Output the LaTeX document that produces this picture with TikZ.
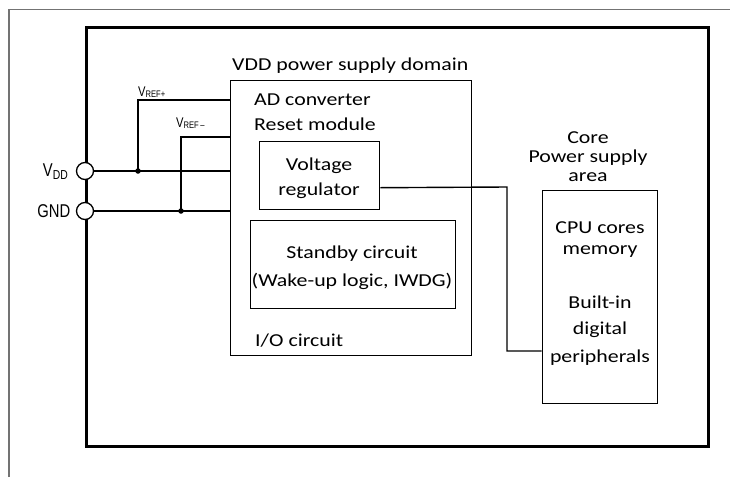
\documentclass[tikz,border=0pt]{standalone}
\usepackage{fontspec}
\setmainfont[FakeStretch=1.2]{Carlito}
\newfontfamily\pinfont[FakeStretch=0.8]{Liberation Sans}
\begin{document}
\begin{tikzpicture}[x=1pt,y=-1pt,
  txt/.style={inner sep=0pt,font=\fontsize{18.2}{21}\selectfont},
  pin/.style={inner sep=0pt,font=\pinfont\fontsize{18.5}{18.5}\selectfont},
  vref/.style={inner sep=0pt,font=\pinfont\fontsize{14}{14}\selectfont},
  box/.style={draw,line width=1.4pt,inner sep=0pt,anchor=north west},
  outerbox/.style={draw,line width=2.5pt,inner sep=0pt,anchor=north west},
  wire/.style={line width=1.4pt},
  framegray/.style={draw=black!55,line width=1.3pt},
  pincircle/.style={circle,draw,fill=white,line width=1.3pt,minimum size=17pt,inner sep=0pt},
  dot/.style={circle,fill=black,minimum size=5.5pt,inner sep=0pt}]
\useasboundingbox (0,0) rectangle (730,477);
% page frame
\draw[framegray] (9,477) -- (9,9.5) -- (730,9.5);
% outer box
\node[outerbox,minimum width=622pt,minimum height=419pt] (outer) at (85,26) {};
% VDD domain
\node[box,minimum width=241pt,minimum height=275pt] (dom) at (230,80) {};
\node[txt,anchor=base west] (domtitle) at (232,70.5) {VDD power supply domain};
\node[txt,anchor=base west] (adc) at (254,105) {AD converter};
\node[txt,anchor=base west] (rst) at (254,130) {Reset module};
\node[box,minimum width=120pt,minimum height=68pt] (reg) at (259,141) {};
\node[txt,anchor=base] (reg1) at (319,170) {Voltage};
\node[txt,anchor=base] (reg2) at (319,195) {regulator};
\node[box,minimum width=205pt,minimum height=88pt] (stby) at (250,220) {};
\node[txt,anchor=base] (stby1) at (352,258) {Standby circuit};
\node[txt,anchor=base] (stby2) at (352,286) {(Wake-up logic, IWDG)};
\node[txt,anchor=base west] (io) at (255,346) {I/O circuit};
% core domain
\node[txt,anchor=base] (core1) at (588,143) {Core};
\node[txt,anchor=base] (core2) at (588,162) {Power supply};
\node[txt,anchor=base] (core3) at (588,181) {area};
\node[box,minimum width=115.5pt,minimum height=213pt] (core) at (541.5,190) {};
\node[txt,anchor=base] (cpu1) at (600,233) {CPU cores};
\node[txt,anchor=base] (cpu2) at (600,254) {memory};
\node[txt,anchor=base] (bi1) at (600,308) {Built-in};
\node[txt,anchor=base] (bi2) at (600,334) {digital};
\node[txt,anchor=base] (bi3) at (600,362) {peripherals};
% pins
\coordinate (rvdd) at (230,171);
\coordinate (rgnd) at (230,211);
\coordinate (rvp) at (230,100);
\coordinate (rvm) at (230,137);
\node[dot] (jp) at (138,171) {};
\node[dot] (jm) at (181,211) {};
\draw[wire] (85,171) -- (rvdd);
\draw[wire] (85,211) -- (rgnd);
\draw[wire] (jp.center) |- (rvp);
\draw[wire] (jm.center) |- (rvm);
\node[pincircle] (vddpin) at (85,171) {};
\node[pincircle] (gndpin) at (85,211) {};
\node[pin,anchor=east] (vddlbl) at (68,172) {V\raisebox{-0.15em}{\fontsize{13}{13}\selectfont DD}};
\node[pin,anchor=east] (gndlbl) at (70.5,211) {GND};
\node[vref,anchor=base west] (vrefp) at (138,96) {V\raisebox{-0.1em}{\fontsize{9.5}{9.5}\selectfont REF+}};
\node[vref,anchor=base west] (vrefm) at (176,127) {V\raisebox{-0.1em}{\fontsize{9.5}{9.5}\selectfont REF\,–}};
% regulator to core
\coordinate (bend) at (507,187);
\coordinate (cw) at (541.5,351);
\draw[wire] ([yshift=-12pt]reg.east) -- (bend) |- (cw);
\end{tikzpicture}
\end{document}
